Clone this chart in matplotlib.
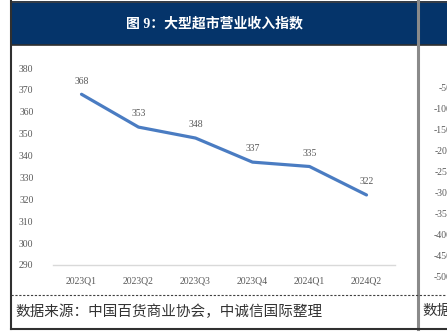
import matplotlib
matplotlib.use("Agg")
import matplotlib.pyplot as plt
from matplotlib.patches import Rectangle

plt.rcParams['font.family'] = ['Liberation Serif', 'Noto Sans CJK SC', 'DejaVu Sans']

# data
quarters = ['2023Q1', '2023Q2', '2023Q3', '2023Q4', '2024Q1', '2024Q2']
index_values = [368, 353, 348, 337, 335, 322]
y_ticks = [290, 300, 310, 320, 330, 340, 350, 360, 370, 380]

title = '图 9：大型超市营业收入指数'
source = '数据来源：中国百货商业协会，中诚信国际整理'

# the cut-off neighbour panel on the right
right_ticks = ['0', '-50', '-100', '-150', '-200', '-250', '-300', '-350', '-400', '-450', '-500']

W, H = 447, 335
navy = '#05346A'
line_blue = '#4A7CC2'
grey_txt = '#595959'

fig = plt.figure(figsize=(W / 100, H / 100), dpi=100)

# frame drawn in pixel coordinates
bg = fig.add_axes([0, 0, 1, 1])
bg.set_xlim(0, W)
bg.set_ylim(H, 0)
bg.axis('off')

bg.add_patch(Rectangle((11, 1), W - 11, 44, facecolor=navy, edgecolor='none'))
bg.plot([11, W], [1.5, 1.5], color='#404040', lw=1.2)
bg.plot([11, W], [45, 45], color='#303030', lw=1.2)
bg.plot([11, 11], [1, 329], color='#303030', lw=1.5)
bg.plot([418, 418], [1, 329], color='#8A8A8A', lw=2.2)
bg.plot([11, W], [329, 329], color='#303030', lw=1.5)
bg.plot([11, W], [295, 295], color='#404040', lw=0.8, ls=(0, (2, 1.5)))

fig.text(214 / W, 1 - 23 / H, title, color='white', fontsize=10, fontweight='bold',
         ha='center', va='center')
fig.text(15 / W, 1 - 312 / H, source, color='#333333', fontsize=10.5, style='italic',
         ha='left', va='center')
fig.text(422 / W, 1 - 312 / H, '数据', color='#333333', fontsize=10.5, style='italic',
         ha='left', va='center')

for i, lab in enumerate(right_ticks):
    fig.text(452 / W, 1 - (68 + i * 20.9) / H, lab, color=grey_txt, fontsize=7,
             ha='right', va='center')

# main chart
ax = fig.add_axes([53 / W, (H - 265) / H, 342 / W, 197 / H])
x = list(range(len(quarters)))
ax.plot(x, index_values, color=line_blue, lw=2.3, solid_capstyle='round')
for xi, v in zip(x, index_values):
    ax.annotate(str(v), (xi, v), xytext=(0, 9.5), textcoords='offset points',
                ha='center', va='center', fontsize=7, color=grey_txt)

ax.set_xlim(-0.5, len(quarters) - 0.5)
ax.set_ylim(290, 380)
ax.set_xticks(x)
ax.set_xticklabels(quarters)
ax.set_yticks(y_ticks)
ax.tick_params(axis='both', length=0, labelsize=7, labelcolor=grey_txt)
ax.tick_params(axis='x', pad=8)
ax.tick_params(axis='y', pad=14)
for side in ['top', 'right', 'left']:
    ax.spines[side].set_visible(False)
ax.spines['bottom'].set_color('#D9D9D9')
ax.spines['bottom'].set_linewidth(1)
ax.patch.set_alpha(0)

fig.savefig('out.png', dpi=100)
